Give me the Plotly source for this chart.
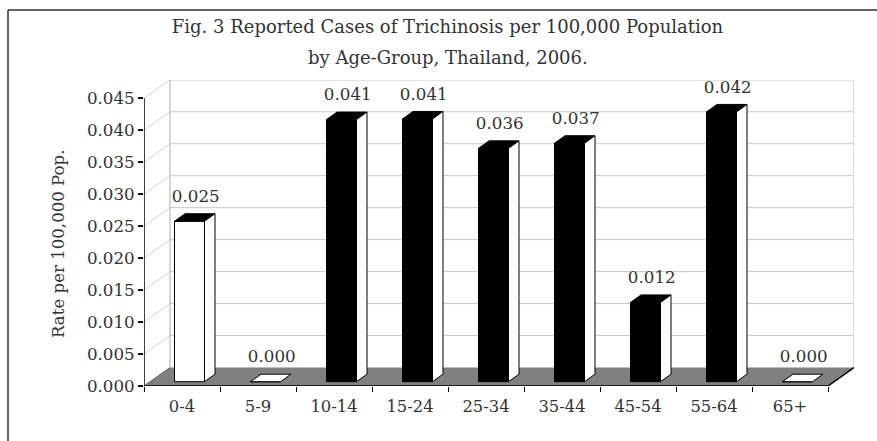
import plotly.graph_objects as go

# ---- data ----
age_groups = ["0-4", "5-9", "10-14", "15-24", "25-34", "35-44", "45-54", "55-64", "65+"]
rates = [0.0251, 0.0, 0.0410, 0.0411, 0.0365, 0.0373, 0.0124, 0.0422, 0.0]
rate_labels = ["0.025", "0.000", "0.041", "0.041", "0.036", "0.037", "0.012", "0.042", "0.000"]
y_ticks = [0.000, 0.005, 0.010, 0.015, 0.020, 0.025, 0.030, 0.035, 0.040, 0.045]
y_tick_labels = ["0.000", "0.005", "0.010", "0.015", "0.020", "0.025", "0.030", "0.035", "0.040", "0.045"]
title_line_1 = "Fig. 3 Reported Cases of Trichinosis per 100,000 Population"
title_line_2 = "by Age-Group, Thailand, 2006."
y_title = "Rate per 100,000 Pop."

# ---- layout / projection constants ----
W, H = 877, 441
ML, MR, MT, MB = 144, 23, 80, 55
PX_PER_CAT = 76.0
PX_PER_UNIT = 6393.0
FONT = "DejaVu Serif"
TXT = "#333333"


def px_x(p):
    return p / PX_PER_CAT


def px_y(p):
    return p / PX_PER_UNIT


WALL_DX, WALL_DY = px_x(26), px_y(18.5)      # depth of the floor
FRONT_DX, FRONT_DY = px_x(7.5), px_y(4.3)    # bar front face inside the floor
SIDE_DX, SIDE_DY = px_x(10.5), px_y(7.5)     # bar depth
BAR_W = px_x(30)
X0, X1 = -0.5, len(age_groups) - 0.5
Y_TOP = max(y_ticks)
GRID = "#c8c8c8"

shapes = []


def line(x0, y0, x1, y1, color, width):
    shapes.append(dict(type="line", xref="x", yref="y", x0=x0, y0=y0, x1=x1, y1=y1,
                       line=dict(color=color, width=width), layer="below"))


# floor
shapes.append(dict(type="path", xref="x", yref="y", layer="below",
                   path=f"M {X0} 0 L {X1} 0 L {X1 + WALL_DX} {WALL_DY} L {X0 + WALL_DX} {WALL_DY} Z",
                   fillcolor="#808080", line=dict(width=0)))
# wall grid
for t in y_ticks[1:-1]:
    line(X0 + WALL_DX, t + WALL_DY, X1 + WALL_DX, t + WALL_DY, GRID, 1)
for t in y_ticks[1:]:
    line(X0, t, X0 + WALL_DX, t + WALL_DY, "#d4d4d4", 1)
line(X0 + WALL_DX, WALL_DY, X0 + WALL_DX, Y_TOP + WALL_DY, GRID, 1.5)
line(X0, 0, X0 + WALL_DX, WALL_DY, "#606060", 1)

fig = go.Figure()
centers = list(range(len(age_groups)))
front_fill = ["white"] + ["black" if r > 0 else "white" for r in rates[1:]]

fig.add_trace(go.Bar(
    x=[c + FRONT_DX for c in centers], y=rates, base=FRONT_DY, width=BAR_W,
    marker=dict(color=front_fill, line=dict(color="black", width=1)),
    hoverinfo="skip", showlegend=False,
))


def edge(xs, ys, color, width):
    fig.add_trace(go.Scatter(x=xs, y=ys, mode="lines", line=dict(color=color, width=width),
                             cliponaxis=False, hoverinfo="skip", showlegend=False))


# edges sitting on the plot boundary, drawn unclipped
edge([X0 + WALL_DX, X1 + WALL_DX], [Y_TOP + WALL_DY] * 2, GRID, 1.5)
edge([X1 + WALL_DX] * 2, [WALL_DY, Y_TOP + WALL_DY], "#d8d8d8", 2)
edge([X0, X0], [0, Y_TOP], "black", 1.5)
edge([X0, X1, X1 + WALL_DX], [0, 0, WALL_DY], "black", 1.5)

for c, r in zip(centers, rates):
    xl = c + FRONT_DX - BAR_W / 2
    xr = c + FRONT_DX + BAR_W / 2
    yb = FRONT_DY
    yt = FRONT_DY + r
    top_fill = "black" if r > 0 else "white"
    # top face
    fig.add_trace(go.Scatter(
        x=[xl, xr, xr + SIDE_DX, xl + SIDE_DX, xl],
        y=[yt, yt, yt + SIDE_DY, yt + SIDE_DY, yt],
        mode="lines", fill="toself", fillcolor=top_fill,
        line=dict(color="black", width=1), hoverinfo="skip", showlegend=False,
    ))
    # side face
    if r > 0:
        fig.add_trace(go.Scatter(
            x=[xr, xr + SIDE_DX, xr + SIDE_DX, xr, xr],
            y=[yb, yb + SIDE_DY, yt + SIDE_DY, yt, yb],
            mode="lines", fill="toself", fillcolor="white",
            line=dict(color="black", width=1), hoverinfo="skip", showlegend=False,
        ))

# value labels
fig.add_trace(go.Scatter(
    x=[c + FRONT_DX + SIDE_DX / 2 + px_x(1) for c in centers],
    y=[r + FRONT_DY + SIDE_DY + px_y(16) for r in rates],
    mode="text", text=rate_labels, textposition="middle center",
    textfont=dict(family=FONT, size=16.7, color=TXT),
    hoverinfo="skip", showlegend=False, cliponaxis=False,
))

PW, PH = W - ML - MR, H - MT - MB
frame_x = (8 - ML) / PW
frame_y = (H - MB - 10) / PH

fig.update_layout(
    width=W, height=H, margin=dict(l=ML, r=MR, t=MT, b=MB, autoexpand=False),
    paper_bgcolor="white", plot_bgcolor="white", showlegend=False, shapes=shapes + [
        dict(type="line", xref="paper", yref="paper", x0=frame_x, x1=frame_x,
             y0=frame_y, y1=-MB / PH, line=dict(color="#303030", width=1.5)),
        dict(type="line", xref="paper", yref="paper", x0=frame_x, x1=(W - ML) / PW,
             y0=frame_y, y1=frame_y, line=dict(color="#303030", width=1.5)),
    ],
    title=dict(text=title_line_1, x=447.5 / W, xanchor="center", y=1 - 27 / H, yanchor="middle",
               font=dict(family=FONT, size=18, color=TXT)),
    annotations=[
        dict(text=title_line_2, xref="paper", yref="paper", x=(447.5 - ML) / PW,
             y=(H - MB - 57) / PH, xanchor="center", yanchor="middle", showarrow=False,
             font=dict(family=FONT, size=18, color=TXT)),
        dict(text=y_title, xref="paper", yref="paper", x=(58 - ML) / PW,
             y=(386 - 244) / PH, xanchor="center", yanchor="middle", showarrow=False, textangle=-90,
             font=dict(family=FONT, size=16.6, color=TXT)),
    ],
    xaxis=dict(
        range=[X0, X1 + WALL_DX], showgrid=False, zeroline=False, showline=False,
        tickmode="array", tickvals=centers, ticktext=age_groups, ticks="",
        tickfont=dict(family=FONT, size=16.4, color=TXT), ticklabelstandoff=9,
        minor=dict(tickmode="array", tickvals=[c - 0.5 for c in centers] + [X1],
                   ticks="outside", ticklen=5, tickwidth=1, tickcolor="black", showgrid=False),
    ),
    yaxis=dict(
        range=[0, PH / PX_PER_UNIT], showgrid=False, zeroline=False, showline=False,
        tickmode="array", tickvals=y_ticks, ticktext=y_tick_labels, ticks="outside",
        ticklen=5, tickwidth=1.5, tickcolor="black",
        tickfont=dict(family=FONT, size=16.7, color=TXT),
    ),
)

fig.write_html("out.html", config={"displayModeBar": False},
               post_script="document.body.style.margin='0';document.body.style.overflow='hidden';")
